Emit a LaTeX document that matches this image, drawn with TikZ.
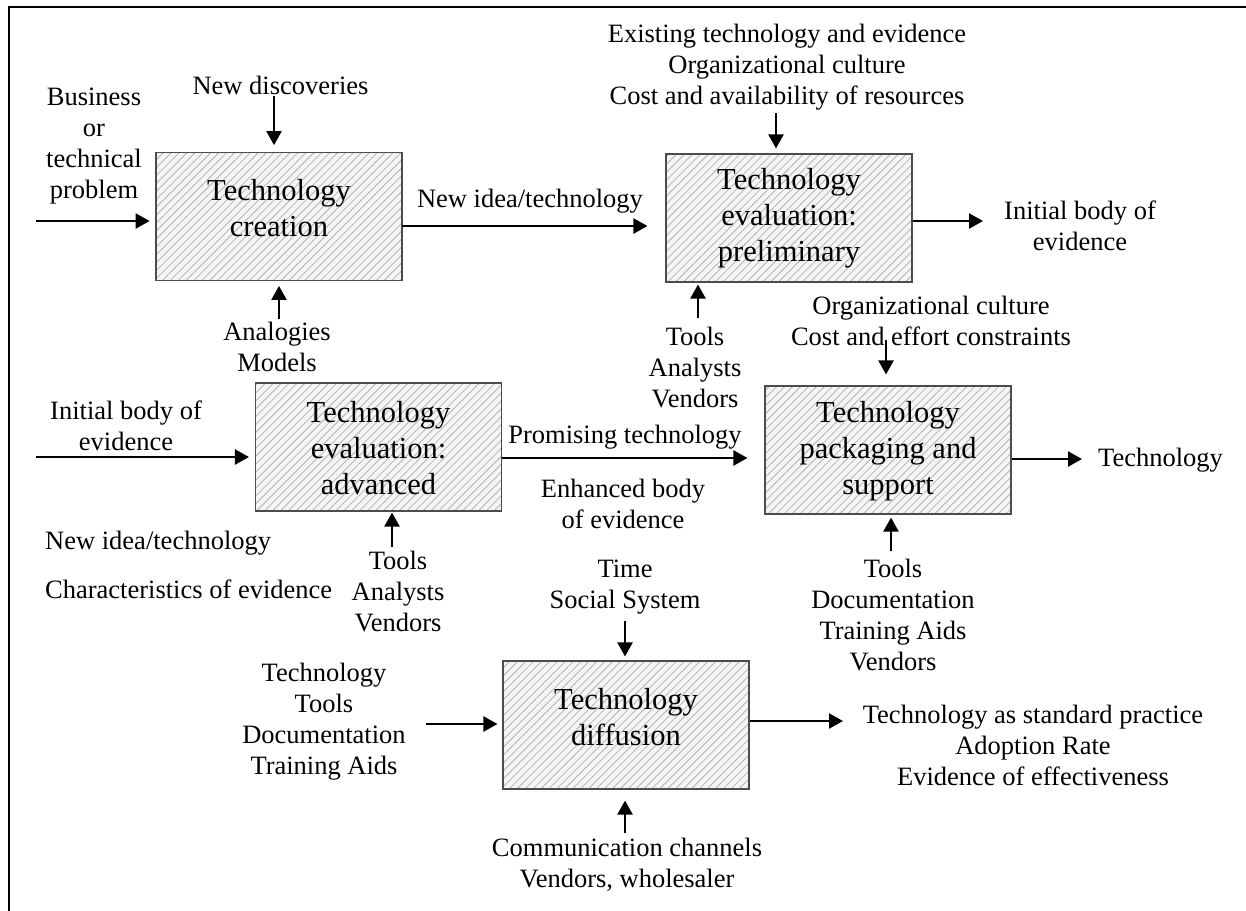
\documentclass[tikz,border=0pt]{standalone}
\usepackage{fontspec}
\setmainfont{Liberation Serif}
\usetikzlibrary{arrows.meta,patterns.meta}

\begin{document}
\begin{tikzpicture}[x=1pt,y=-1pt,
  box/.style={draw=black!70, line width=1.1pt, minimum width=246pt, minimum height=128pt,
    inner sep=0pt, preaction={fill=gray!8},
    pattern={Lines[angle=45,distance=5.6pt,line width=0.8pt]}, pattern color=gray!60},
  boxtext/.style={align=center, font=\fontsize{30.5}{36}\selectfont, inner sep=0pt},
  lbl/.style={align=center, font=\fontsize{26.5}{31}\selectfont, inner sep=0pt},
  arr/.style={line width=2.3pt, -{Triangle[length=14pt,width=15pt]}},
]
\useasboundingbox (0,0) rectangle (1246,910);
\clip (0,0) rectangle (1246,910);

% outer frame
\draw[line width=2.5pt] (9,920) -- (9,7) -- (1260,7);

% process boxes
\node[box] (b1) at (279,216.5) {};
\node[box] (b2) at (789,218) {};
\node[box] (b3) at (378.5,447) {};
\node[box] (b4) at (888,450) {};
\node[box] (b5) at (626,725) {};

\node[boxtext] (t1) at ([yshift=8pt]b1.center) {Technology\\creation};
\node[boxtext] (t2) at ([yshift=0pt]b2.center) {Technology\\evaluation:\\preliminary};
\node[boxtext] (t3) at ([yshift=-1pt]b3.center) {Technology\\evaluation:\\advanced};
\node[boxtext] (t4) at ([yshift=-1pt]b4.center) {Technology\\packaging and\\support};
\node[boxtext] (t5) at ([yshift=8pt]b5.center) {Technology\\diffusion};

% --- Technology creation
\node[lbl] (l1) at (94,146) {Business\\or\\technical\\problem};
\coordinate (l1s) at (36,221);
\draw[arr, shorten >=6pt] (l1s) -- (l1s -| b1.west);

\node[lbl] (l2) at (280.5,85) {New discoveries};
\coordinate (l2s) at (274,96);
\draw[arr, shorten >=7pt] (l2s) -- (l2s |- b1.north);

\node[lbl] (l3) at (277,347) {Analogies\\Models};
\coordinate (l3s) at (279,319);
\draw[arr, shorten >=5pt] (l3s) -- (l3s |- b1.south);

\coordinate (r12) at (0,226);
\draw[arr, shorten >=18pt] (b1.east |- r12) -- (b2.west |- r12);
\node[lbl] (l4) at (530,201) {New idea/technology};

% --- Technology evaluation: preliminary
\node[lbl] (l5) at (787,67) {Existing technology and evidence\\Organizational culture\\Cost and availability of resources};
\coordinate (l5s) at (776,113);
\draw[arr, shorten >=5pt] (l5s) -- (l5s |- b2.north);

\coordinate (o2) at (983,221);
\draw[arr] (b2.east |- o2) -- (o2);
\node[lbl] (l6) at (1080,226) {Initial body of\\evidence};

\node[lbl] (l7) at (695,367) {Tools\\Analysts\\Vendors};
\coordinate (l7s) at (698,318);
\draw[arr, shorten >=2pt] (l7s) -- (l7s |- b2.south);

% --- Technology evaluation: advanced
\node[lbl] (l8) at (126,426) {Initial body of\\evidence};
\coordinate (l8s) at (36,457);
\draw[arr, shorten >=6pt] (l8s) -- (l8s -| b3.west);

\node[lbl, anchor=west] (l9) at (45,543) {New idea/technology};
\node[lbl, anchor=west] (l10) at (45,589) {Characteristics of evidence};

\node[lbl] (l11) at (398,591) {Tools\\Analysts\\Vendors};
\coordinate (l11s) at (392,547);
\draw[arr, shorten >=1pt] (l11s) -- (l11s |- b3.south);

\coordinate (r34) at (0,458);
\draw[arr, shorten >=17pt] (b3.east |- r34) -- (b4.west |- r34);
\node[lbl] (l12) at (625,437) {Promising technology};
\node[lbl] (l13) at (623,504) {Enhanced body\\of evidence};

% --- Technology packaging and support
\node[lbl] (l14) at (931,321) {Organizational culture\\Cost and effort constraints};
\coordinate (l14s) at (886,340);
\draw[arr, shorten >=11pt] (l14s) -- (l14s |- b4.north);

\coordinate (o4) at (1082,459);
\draw[arr] (b4.east |- o4) -- (o4);
\node[lbl, anchor=west] (l15) at (1098,460) {Technology};

\node[lbl] (l16) at (893,615) {Tools\\Documentation\\Training Aids\\Vendors};
\coordinate (l16s) at (891,551);
\draw[arr, shorten >=3pt] (l16s) -- (l16s |- b4.south);

% --- Technology diffusion
\node[lbl] (l17) at (625,587) {Time\\Social System};
\coordinate (l17s) at (625,621);
\draw[arr, shorten >=4pt] (l17s) -- (l17s |- b5.north);

\node[lbl] (l18) at (324,722) {Technology\\Tools\\Documentation\\Training Aids};
\coordinate (l18s) at (426,724);
\draw[arr, shorten >=5pt] (l18s) -- (l18s -| b5.west);

\coordinate (o5) at (843,721);
\draw[arr] (b5.east |- o5) -- (o5);
\node[lbl] (l19) at (1033,745) {Technology as standard practice\\Adoption Rate\\Evidence of effectiveness};

\node[lbl] (l20) at (627,865) {Communication channels\\Vendors, wholesaler};
\coordinate (l20s) at (625,833);
\draw[arr, shorten >=11pt] (l20s) -- (l20s |- b5.south);

\end{tikzpicture}
\end{document}
